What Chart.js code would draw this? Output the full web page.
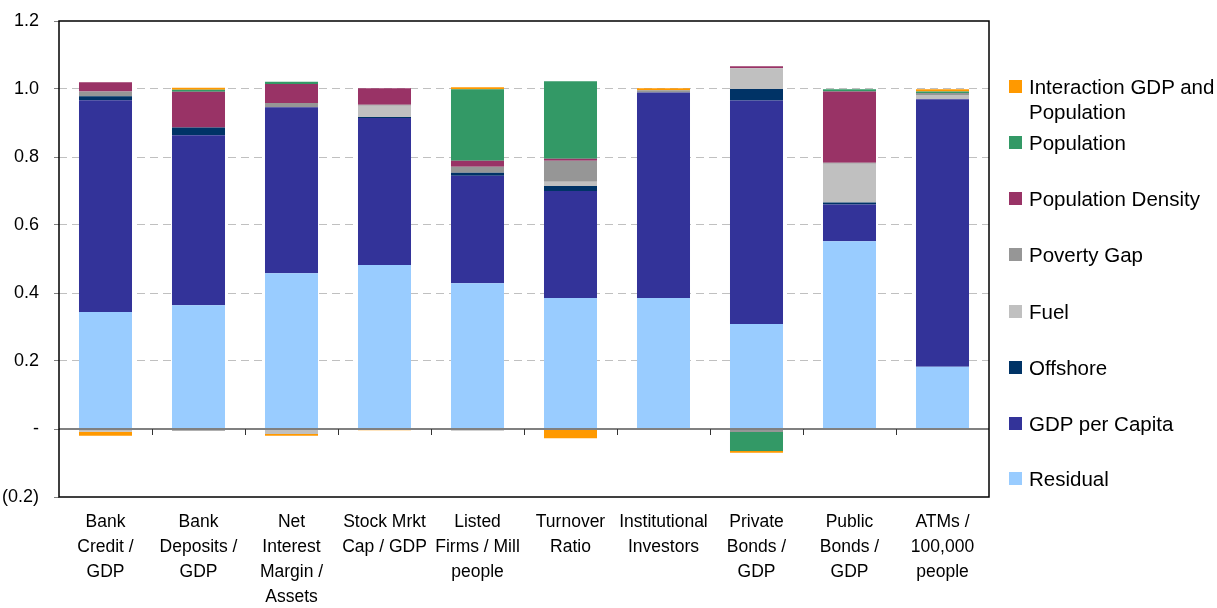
<!DOCTYPE html>
<html>
<head>
<meta charset="utf-8">
<script src="https://cdn.jsdelivr.net/npm/chart.js@4/dist/chart.umd.min.js"></script>
<style>
  body{margin:0;background:#fff;font-family:"Liberation Sans",Arial,sans-serif}
  #wrap{position:relative;width:1217px;height:608px}
  #legend{position:absolute;left:1009px;top:0;width:208px}
  .lg{position:absolute;left:0;font-size:20.5px;line-height:25px;color:#000;white-space:nowrap}
  .lg i{position:absolute;left:0;top:6px;width:13px;height:13px}
  .lg span{position:absolute;left:20px;top:0}
</style>
</head>
<body>
<div id="wrap">
  <canvas id="c" width="1217" height="608"></canvas>
  <div id="legend"></div>
</div>
<script>
const categories = [
  ['Bank','Credit /','GDP'],
  ['Bank','Deposits /','GDP'],
  ['Net','Interest','Margin /','Assets'],
  ['Stock Mrkt','Cap / GDP'],
  ['Listed','Firms / Mill','people'],
  ['Turnover','Ratio'],
  ['Institutional','Investors'],
  ['Private','Bonds /','GDP'],
  ['Public','Bonds /','GDP'],
  ['ATMs /','100,000','people']
]

// stacked bottom-up
const residual     = [0.344, 0.364, 0.458, 0.482, 0.429, 0.385, 0.385, 0.309, 0.552, 0.183]
const gdpPerCapita = [0.623, 0.500, 0.488, 0.433, 0.316, 0.315, 0.605, 0.657, 0.108, 0.787]
const offshore     = [0.012, 0.023, -0.003, 0.003, 0.009, 0.015, 0, 0.034, 0.006, 0]
const fuel         = [-0.008, 0, -0.012, 0.033, -0.005, 0.012, 0, 0.061, 0.114, 0.012]
const povertyGap   = [0.014, -0.005, 0.013, 0.003, 0.017, 0.062, 0.006, -0.009, 0.003, 0.006]
const popDensity   = [0.027, 0.105, 0.056, 0.048, 0.018, 0.006, 0, 0.006, 0.210, 0]
const population   = [0, 0.006, 0.006, 0, 0.210, 0.228, 0, -0.056, 0.006, 0.005]
const interaction  = [-0.012, 0.006, -0.005, -0.004, 0.006, -0.027, 0.006, -0.005, 0, 0.006]

const yTicks = [-0.2, 0, 0.2, 0.4, 0.6, 0.8, 1.0, 1.2]

const series = [
  {label:'Residual', data:residual, color:'#99CCFF'},
  {label:'GDP per Capita', data:gdpPerCapita, color:'#333399'},
  {label:'Offshore', data:offshore, color:'#003366'},
  {label:'Fuel', data:fuel, color:'#C0C0C0'},
  {label:'Poverty Gap', data:povertyGap, color:'#969696'},
  {label:'Population Density', data:popDensity, color:'#993366'},
  {label:'Population', data:population, color:'#339966'},
  {label:'Interaction GDP and Population', data:interaction, color:'#FF9900'}
]

function fmtTick(v){
  if(Math.abs(v) < 1e-9) return '-'
  if(v < 0) return '(' + Math.abs(v).toFixed(1) + ')'
  return v.toFixed(1)
}

// zero line, category ticks and frame
const framePlugin = {
  id:'frame',
  afterDatasetsDraw(chart){
    const {ctx, chartArea:a, scales:{x,y}} = chart
    const y0 = y.getPixelForValue(0)
    const step = a.width / categories.length
    ctx.save()
    ctx.strokeStyle = '#808080'
    ctx.lineWidth = 2
    ctx.beginPath(); ctx.moveTo(a.left, y0); ctx.lineTo(a.right, y0); ctx.stroke()
    ctx.strokeStyle = '#333'
    ctx.lineWidth = 1
    for(let i=1;i<categories.length;i++){
      const px = Math.round(x.getPixelForValue(i) - step/2) + 0.5
      ctx.beginPath(); ctx.moveTo(px, y0); ctx.lineTo(px, y0+6); ctx.stroke()
    }
    ctx.strokeStyle = '#000'
    ctx.lineWidth = 1.5
    ctx.strokeRect(a.left, a.top, a.width, a.height)
    ctx.restore()
  }
}

new Chart(document.getElementById('c'), {
  type:'bar',
  data:{
    labels:categories,
    datasets:series.map(s=>({
      label:s.label, data:s.data, backgroundColor:s.color, borderWidth:0,
      barPercentage:0.57, categoryPercentage:1
    }))
  },
  options:{
    responsive:false,
    animation:false,
    layout:{padding:{left:0, right:228, top:21, bottom:0}},
    plugins:{legend:{display:false}, tooltip:{enabled:false}},
    scales:{
      x:{
        stacked:true,
        grid:{display:false, drawTicks:false},
        border:{display:false},
        ticks:{color:'#000', padding:13, maxRotation:0, minRotation:0, autoSkip:false,
          font:{family:'"Liberation Sans", Arial, sans-serif', size:17.5, lineHeight:25/17.5}},
        afterFit(s){ s.height = 111 }
      },
      y:{
        stacked:true,
        min:-0.2, max:1.2,
        afterBuildTicks(s){ s.ticks = yTicks.map(v=>({value:v})) },
        grid:{
          color:ctx=>(ctx.tick && (Math.abs(ctx.tick.value) < 1e-9 || ctx.tick.value >= 1.19 || ctx.tick.value <= -0.19)) ? 'rgba(0,0,0,0)' : '#C0C0C0',
          tickColor:'#808080', tickLength:5, lineWidth:1
        },
        border:{display:false, dash:[8,5]},
        ticks:{color:'#000', padding:15, callback:v=>fmtTick(v),
          font:{family:'"Liberation Sans", Arial, sans-serif', size:18}},
        afterFit(s){ s.width = 59; s.paddingTop = 0; s.paddingBottom = 0 }
      }
    }
  },
  plugins:[framePlugin]
})

// legend, top to bottom reverse of stack order
const legendRows = [
  {idx:7, top:74, text:['Interaction GDP and','Population']},
  {idx:6, top:130},
  {idx:5, top:186},
  {idx:4, top:242},
  {idx:3, top:299},
  {idx:2, top:355},
  {idx:1, top:411},
  {idx:0, top:466}
]
const lg = document.getElementById('legend')
legendRows.forEach(r=>{
  const s = series[r.idx]
  const d = document.createElement('div')
  d.className = 'lg'
  d.style.top = r.top + 'px'
  const sw = document.createElement('i')
  sw.style.background = s.color
  const t = document.createElement('span')
  t.innerHTML = (r.text || [s.label]).join('<br>')
  d.appendChild(sw); d.appendChild(t)
  lg.appendChild(d)
})
</script>
</body>
</html>
